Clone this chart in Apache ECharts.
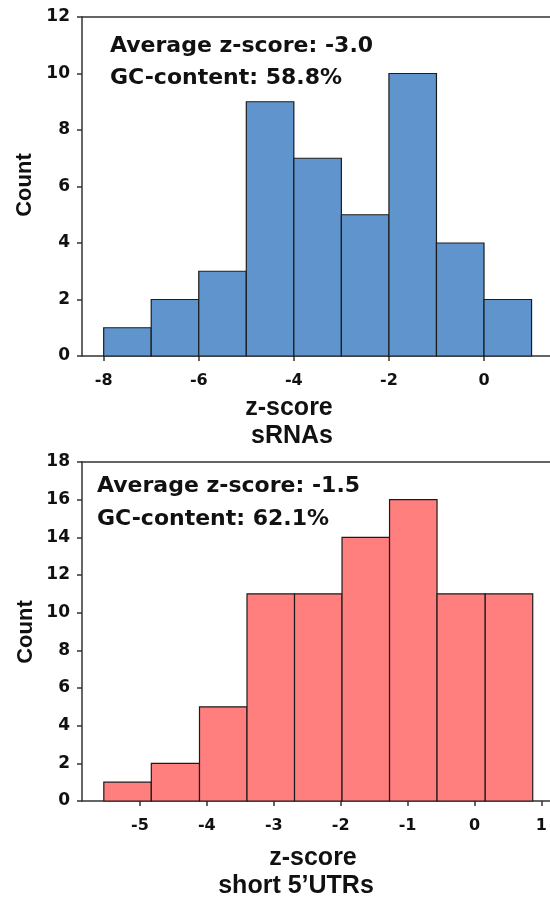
<!DOCTYPE html>
<html>
<head>
<meta charset="utf-8">
<script src="https://cdn.jsdelivr.net/npm/echarts@6/dist/echarts.min.js"></script>
<style>
  html, body { margin: 0; padding: 0; background: #fff; }
  #main { width: 550px; height: 900px; }
</style>
</head>
<body>
<div id="main"></div>
<script>
// sRNAs histogram (bin edges + counts)
var srnaEdges = [-8, -7, -6, -5, -4, -3, -2, -1, 0, 1];
var srnaCounts = [1, 2, 3, 9, 7, 5, 10, 4, 2];
var srnaTicks = [-8, -6, -4, -2, 0];

// short 5'UTRs histogram
var utrEdges = [-5.54, -4.83, -4.11, -3.40, -2.69, -1.98, -1.27, -0.56, 0.16, 0.87];
var utrCounts = [1, 2, 5, 11, 11, 14, 16, 11, 11];
var utrTicks = [-5, -4, -3, -2, -1, 0, 1];

var axisColor = '#333';
var tickFont = 'DejaVu Sans';
var titleFont = 'Liberation Sans';

function binData(edges, counts) {
    var out = [];
    for (var i = 0; i < counts.length; i++) {
        out.push([edges[i], edges[i + 1], counts[i]]);
    }
    return out;
}

function renderBin(params, api) {
    var p0 = api.coord([api.value(0), 0]);
    var p1 = api.coord([api.value(1), api.value(2)]);
    return {
        type: 'rect',
        shape: { x: p0[0], y: p1[1], width: p1[0] - p0[0], height: p0[1] - p1[1] },
        style: api.style()
    };
}

function bottomAxis(idx, min, max, ticks) {
    return {
        type: 'value', gridIndex: idx, min: min, max: max,
        axisLine: { show: true, onZero: false, lineStyle: { color: axisColor, width: 1.5 } },
        axisTick: { show: true, inside: false, length: 5, customValues: ticks, lineStyle: { color: axisColor, width: 1.5 } },
        axisLabel: { customValues: ticks, margin: 17, color: '#111', fontFamily: tickFont, fontWeight: 'bold', fontSize: 16 },
        splitLine: { show: false }
    };
}

function topLine(idx, min, max) {
    return {
        type: 'value', gridIndex: idx, position: 'top', min: min, max: max,
        axisLine: { show: true, onZero: false, lineStyle: { color: axisColor, width: 1.5 } },
        axisTick: { show: false }, axisLabel: { show: false }, splitLine: { show: false }
    };
}

function leftAxis(idx, max) {
    return {
        type: 'value', gridIndex: idx, min: 0, max: max, interval: 2,
        axisLine: { show: true, onZero: false, lineStyle: { color: axisColor, width: 1.5 } },
        axisTick: { show: true, length: 5, lineStyle: { color: axisColor, width: 1.5 } },
        axisLabel: { margin: 12, color: '#111', fontFamily: tickFont, fontWeight: 'bold', fontSize: 17 },
        splitLine: { show: false }
    };
}

function label(text, x, y, size, font, rotate, align) {
    return {
        type: 'text', x: x, y: y, rotation: rotate || 0,
        style: {
            text: text, fill: '#111', font: 'bold ' + size + 'px "' + font + '"',
            textAlign: align || 'center', textVerticalAlign: 'middle'
        }
    };
}

var chart = echarts.init(document.getElementById('main'), null, { renderer: 'canvas' });

var option = {
    backgroundColor: '#fff',
    animation: false,
    grid: [
        { left: 82, top: 17, width: 468, height: 339 },
        { left: 82, top: 462, width: 468, height: 339 }
    ],
    xAxis: [
        bottomAxis(0, -8.456, 1.388, srnaTicks),
        topLine(0, -8.456, 1.388),
        bottomAxis(1, -5.866, 1.124, utrTicks),
        topLine(1, -5.866, 1.124)
    ],
    yAxis: [leftAxis(0, 12), leftAxis(1, 18)],
    series: [
        {
            type: 'custom', xAxisIndex: 0, yAxisIndex: 0,
            renderItem: renderBin,
            itemStyle: { color: '#6094cd', borderColor: '#1c1c1c', borderWidth: 1.2 },
            encode: { x: [0, 1], y: 2 },
            data: binData(srnaEdges, srnaCounts)
        },
        {
            type: 'custom', xAxisIndex: 2, yAxisIndex: 1,
            renderItem: renderBin,
            itemStyle: { color: '#ff7f7f', borderColor: '#1c1c1c', borderWidth: 1.2 },
            encode: { x: [0, 1], y: 2 },
            data: binData(utrEdges, utrCounts)
        }
    ],
    graphic: [
        label('Average z-score: -3.0', 110, 46, 22, tickFont, 0, 'left'),
        label('GC-content: 58.8%', 110, 78, 22, tickFont, 0, 'left'),
        label('Average z-score: -1.5', 97, 486, 22, tickFont, 0, 'left'),
        label('GC-content: 62.1%', 97, 519, 22, tickFont, 0, 'left'),
        label('Count', 25, 185, 22, titleFont, Math.PI / 2),
        label('Count', 26, 632, 22, titleFont, Math.PI / 2),
        label('z-score', 289, 408, 25, titleFont),
        label('sRNAs', 292, 436, 25, titleFont),
        label('z-score', 313, 858, 25, titleFont),
        label('short 5\u2019UTRs', 296, 886, 25, titleFont)
    ]
};

chart.setOption(option);
</script>
</body>
</html>
